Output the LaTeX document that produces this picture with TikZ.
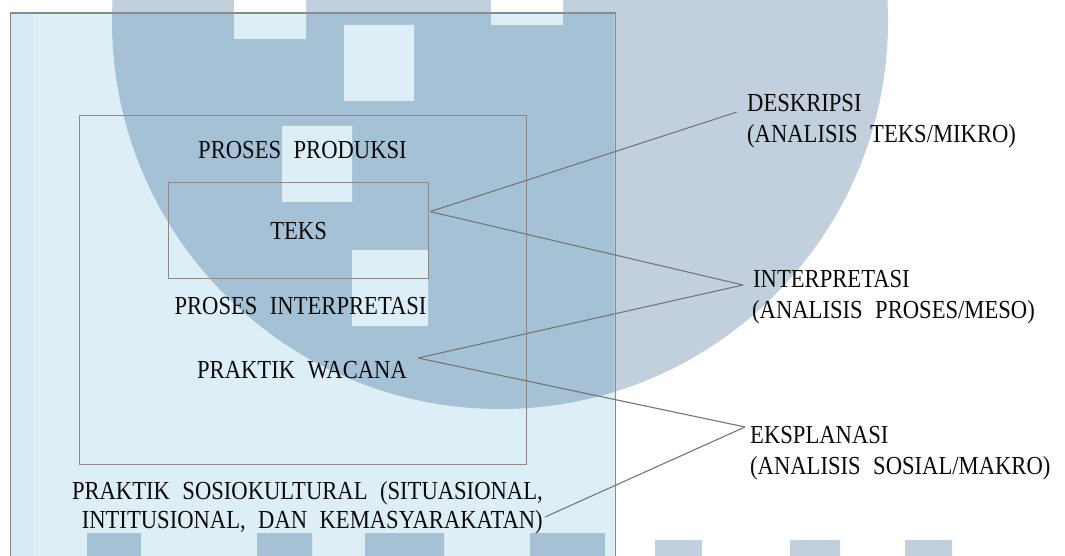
\documentclass[tikz,border=0pt]{standalone}
\usepackage{fontspec}
\setmainfont{Liberation Serif}[FakeStretch=0.87,WordSpace=2.2]
\usetikzlibrary{calc}
\definecolor{rectfill}{HTML}{DEEEF7}
\definecolor{stripfill}{HTML}{D6EAF5}
\definecolor{wmin}{HTML}{A4C1D6}
\definecolor{wmout}{HTML}{C2CFDC}
\definecolor{framecol}{HTML}{8A8A8A}
\definecolor{linkcol}{HTML}{767676}
\definecolor{txt}{HTML}{0A0A0A}
\begin{document}
\begin{tikzpicture}[x=1pt,y=-1pt,
  frame/.style={draw=framecol,line width=1.2pt,inner sep=0pt,anchor=north west},
  lbl/.style={inner sep=0pt,text=txt,font=\fontsize{26}{30}\selectfont},
  link/.style={draw=linkcol,line width=1.1pt}]
\useasboundingbox (0,0) rectangle (1065,556);
\clip (0,0) rectangle (1065,556);
\fill[white] (0,0) rectangle (1065,556);
% watermark outside the frame
\fill[wmout] (500,21) circle[radius=388pt];
\fill[white] (234,0) rectangle (306,39) (491,0) rectangle (563,25);
\fill[wmout] (655,540) rectangle (702,560) (790,540) rectangle (840,560) (905,540) rectangle (952,560);
% frame fill and watermark inside
\fill[rectfill] (10,12.5) rectangle (614.5,570);
\fill[stripfill] (10.5,13) rectangle (33,570);
\begin{scope}
  \clip (10,12.5) rectangle (614.5,570);
  \fill[wmin] (500,21) circle[radius=388pt];
  \fill[rectfill] (234,0) rectangle (306,39) (491,0) rectangle (563,25)
     (344,25) rectangle (414,101) (282,126) rectangle (352,202) (352,250) rectangle (428,326);
  \fill[wmin] (87,533) rectangle (141,560) (257,533) rectangle (312,560)
     (365,533) rectangle (444,560) (530,533) rectangle (605,560);
\end{scope}
% frames
\node[frame,minimum width=604.5pt,minimum height=557.5pt] (sosio) at (10,12.5) {};
\node[frame,minimum width=447pt,minimum height=349pt] (wacana) at (79,115) {};
\node[frame,minimum width=260pt,minimum height=96pt,font=\fontsize{26}{30}\selectfont,text=txt] (teksbox) at (168,182) {TEKS};
% left texts
\node[lbl,anchor=base] (prod) at (302.5,159) {PROSES PRODUKSI};
\node[lbl,anchor=base] (pint) at (300.5,314) {PROSES INTERPRETASI};
\node[lbl,anchor=base] (pw) at (302,378) {PRAKTIK WACANA};
\node[lbl,anchor=base east] (soca) at (543,499) {PRAKTIK SOSIOKULTURAL (SITUASIONAL,};
\node[lbl,anchor=base east] (socb) at (543,528) {INTITUSIONAL, DAN KEMASYARAKATAN)};
% right texts
\node[lbl,anchor=base west] (desk) at (747,111.7) {DESKRIPSI};
\node[lbl,anchor=base west] (deskb) at (747,142.5) {(ANALISIS TEKS/MIKRO)};
\node[lbl,anchor=base west] (interp) at (753,287) {INTERPRETASI};
\node[lbl,anchor=base west] (interpb) at (752,318) {(ANALISIS PROSES/MESO)};
\node[lbl,anchor=base west] (eksp) at (750,443) {EKSPLANASI};
\node[lbl,anchor=base west] (ekspb) at (750,474) {(ANALISIS SOSIAL/MAKRO)};
% connector end points
\coordinate (tA) at ($(teksbox.east)+(1,-19)$);
\coordinate (pA) at ($(pw.base east)+(11,-20)$);
\coordinate (sA) at ($(socb.base east)+(2,-11)$);
\coordinate (dA) at ($(desk.base west)+(-10,0.3)$);
\coordinate (iA) at ($(interp.base west)+(-10,-2)$);
\coordinate (eA) at ($(eksp.base west)+(-5,-16)$);
\draw[link] (tA) -- (dA);
\draw[link] (tA) -- (iA);
\draw[link] (pA) -- (iA);
\draw[link] (pA) -- (eA);
\draw[link] (sA) -- (eA);
\end{tikzpicture}
\end{document}
